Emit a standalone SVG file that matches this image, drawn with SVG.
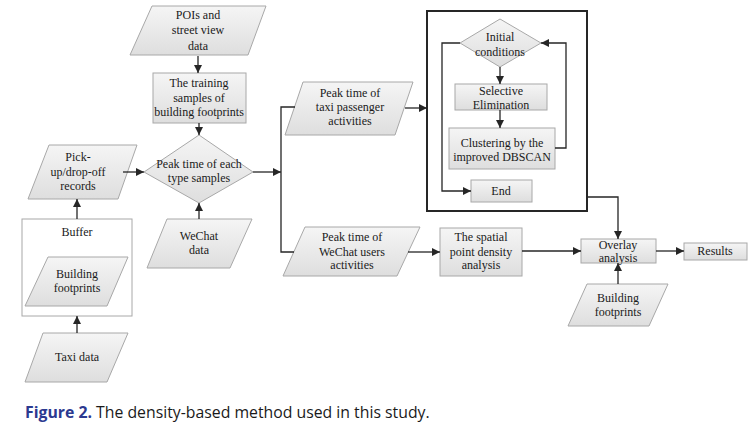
<svg xmlns="http://www.w3.org/2000/svg" width="753" height="428" viewBox="0 0 753 428">
<style>
.s{fill:url(#g);stroke:#a8a8a8;stroke-width:1}
.w{fill:#fff;stroke:#a8a8a8;stroke-width:1}
.t{font-family:"Liberation Serif","Times New Roman",serif;font-size:12px;fill:#1a1a1a;text-anchor:middle}
.c{fill:none;stroke:#262626;stroke-width:1.3}
.cap{font-family:"Open Sans","Noto Sans",sans-serif;font-size:15.8px}
</style>
<defs>
<linearGradient id="g" x1="0" y1="0" x2="0" y2="1">
<stop offset="0" stop-color="#f5f5f5"/>
<stop offset="1" stop-color="#dedede"/>
</linearGradient>
<marker id="a" viewBox="0 0 10 10" refX="10" refY="5" markerWidth="9" markerHeight="8" markerUnits="userSpaceOnUse" orient="auto">
<path d="M0,0 L10,5 L0,10 z" fill="#262626"/>
</marker>
</defs>
<rect width="753" height="428" fill="#fff"/>

<g id="pois">
<polygon class="s" points="152,6 266,6 248,55 130,55"/>
<text class="t" x="198" y="19">POIs and</text>
<text class="t" x="198" y="34">street view</text>
<text class="t" x="198" y="50">data</text>
</g>
<g id="training">
<rect class="s" x="153" y="73" width="93" height="50"/>
<text class="t" x="199" y="87">The training</text>
<text class="t" x="199" y="102">samples of</text>
<text class="t" x="199" y="116">building footprints</text>
</g>
<g id="peak-each">
<polygon class="s" points="199,135 253,172 199,203 144,172"/>
<text class="t" x="199" y="168">Peak time  of each</text>
<text class="t" x="199" y="182">type samples</text>
</g>
<g id="pickup">
<polygon class="s" points="49,145 137,145 118,199 28,199"/>
<text class="t" x="78" y="161">Pick-</text>
<text class="t" x="78" y="176">up/drop-off</text>
<text class="t" x="78" y="190">records</text>
</g>
<g id="buffer">
<rect class="w" x="22" y="219" width="110" height="97"/>
<text class="t" x="77" y="236">Buffer</text>
</g>
<g id="building-left">
<polygon class="s" points="48,257 128,257 107,306 25,306"/>
<text class="t" x="77" y="278">Building</text>
<text class="t" x="77" y="292">footprints</text>
</g>
<g id="taxi">
<polygon class="s" points="43,333 128,333 107,382 25,382"/>
<text class="t" x="77" y="361">Taxi data</text>
</g>
<g id="wechat">
<polygon class="s" points="167,219 252,219 230,268 147,268"/>
<text class="t" x="199" y="240">WeChat</text>
<text class="t" x="199" y="254">data</text>
</g>
<g id="peak-taxi">
<polygon class="s" points="303,82 413,82 395,135 285,135"/>
<text class="t" x="350" y="97">Peak time of</text>
<text class="t" x="350" y="111">taxi passenger</text>
<text class="t" x="350" y="125">activities</text>
</g>
<g id="peak-wechat">
<polygon class="s" points="305,227 420,227 397,276 283,276"/>
<text class="t" x="352" y="241">Peak time of</text>
<text class="t" x="352" y="256">WeChat users</text>
<text class="t" x="352" y="269">activities</text>
</g>
<g id="spatial">
<rect class="s" x="440" y="228" width="82" height="48"/>
<text class="t" x="481" y="241">The spatial</text>
<text class="t" x="481" y="256">point density</text>
<text class="t" x="481" y="269">analysis</text>
</g>
<g id="dbscan-box">
<rect x="427" y="11" width="160" height="200" fill="#fff" stroke="#262626" stroke-width="2"/>
</g>
<g id="initial">
<polygon class="s" points="500,19 541,43 500,67 460,43"/>
<text class="t" x="500" y="41">Initial</text>
<text class="t" x="500" y="56">conditions</text>
</g>
<g id="selective">
<rect class="s" x="455" y="84" width="92" height="26"/>
<text class="t" x="501" y="95">Selective</text>
<text class="t" x="501" y="109">Elimination</text>
</g>
<g id="clustering">
<rect class="s" x="449" y="128" width="106" height="41"/>
<text class="t" x="502" y="147">Clustering by the</text>
<text class="t" x="502" y="161">improved DBSCAN</text>
</g>
<g id="end">
<rect class="s" x="471" y="180" width="61" height="22"/>
<text class="t" x="501" y="195">End</text>
</g>
<g id="overlay">
<rect class="s" x="581" y="239" width="75" height="24"/>
<text class="t" x="618" y="249">Overlay</text>
<text class="t" x="618" y="262">analysis</text>
</g>
<g id="results">
<rect class="s" x="684" y="243" width="63" height="17"/>
<text class="t" x="715" y="255">Results</text>
</g>
<g id="building-right">
<polygon class="s" points="587,284 668,284 649,326 568,326"/>
<text class="t" x="618" y="302">Building</text>
<text class="t" x="618" y="316">footprints</text>
</g>

<g id="connectors">
<path class="c" marker-end="url(#a)" d="M198,56 V73"/>
<path class="c" marker-end="url(#a)" d="M199,123 V135"/>
<path class="c" marker-end="url(#a)" d="M123,172 H144"/>
<path class="c" marker-end="url(#a)" d="M77,219 V199"/>
<path class="c" marker-end="url(#a)" d="M77,333 V316"/>
<path class="c" marker-end="url(#a)" d="M199,219 V203"/>
<path class="c" marker-end="url(#a)" d="M253,172 H281"/>
<path class="c" d="M295,107 H281 V252 H294"/>
<path class="c" marker-end="url(#a)" d="M405,108 H427"/>
<path class="c" marker-end="url(#a)" d="M500,67 V84"/>
<path class="c" marker-end="url(#a)" d="M500,110 V128"/>
<path class="c" marker-end="url(#a)" d="M555,148 H566 V43 H541"/>
<path class="c" marker-end="url(#a)" d="M460,43 H442 V191 H471"/>
<path class="c" marker-end="url(#a)" d="M587,197 H618 V239"/>
<path class="c" marker-end="url(#a)" d="M408,252 H440"/>
<path class="c" marker-end="url(#a)" d="M522,251 H581"/>
<path class="c" marker-end="url(#a)" d="M656,251 H684"/>
<path class="c" marker-end="url(#a)" d="M618,284 V263"/>
</g>

<text class="cap" x="25" y="418"><tspan fill="#2b3990" font-weight="bold">Figure 2.</tspan><tspan fill="#1a1a1a"> The density-based method used in this study.</tspan></text>
</svg>
